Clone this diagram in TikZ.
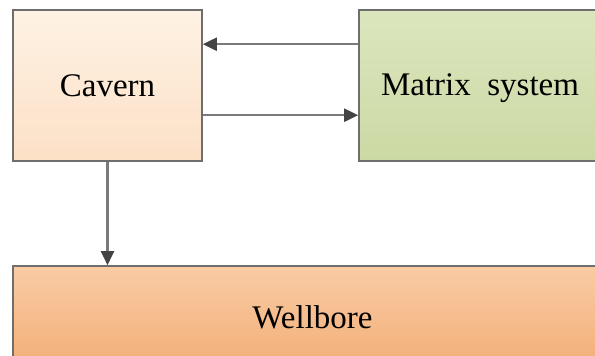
\documentclass[tikz,border=0pt]{standalone}
\usepackage{fontspec}
\setmainfont{Liberation Serif}
\usetikzlibrary{arrows.meta}
\definecolor{edgegray}{HTML}{6E6E6E}
\definecolor{linegray}{HTML}{7A7A7A}
\definecolor{tipgray}{HTML}{444444}
\definecolor{cavtop}{HTML}{FEF2E4}
\definecolor{cavbot}{HTML}{FCE0C6}
\definecolor{mattop}{HTML}{DCE6BE}
\definecolor{matbot}{HTML}{CBD9A4}
\definecolor{weltop}{HTML}{F9CCA4}
\definecolor{welbot}{HTML}{F3AE78}
\tikzset{
  blockbox/.style={draw=edgegray, line width=1.6pt, rectangle, inner sep=0pt,
    font=\fontsize{33}{40}\selectfont, text=black},
  flowarrow/.style={draw=linegray, line width=2.2pt,
    -{Triangle[length=14pt,width=13pt,fill=tipgray,color=tipgray]}},
}
\newcommand{\lowertext}[2]{\raisebox{-#1}[\height][\depth]{#2}}
\begin{document}
\begin{tikzpicture}[x=1pt,y=-1pt]
\useasboundingbox (0,0) rectangle (595,356);
\fill[white] (0,0) rectangle (595,356);
\clip (0,0) rectangle (595,356);
\node[blockbox, minimum width=189pt, minimum height=151pt,
      top color=cavtop, bottom color=cavbot] (cav) at (107.5,85.5) {Cavern};
\node[blockbox, minimum width=242pt, minimum height=151pt,
      top color=mattop, bottom color=matbot] (mat) at (480,85.5) {\lowertext{3pt}{Matrix\ \ system}};
\node[blockbox, minimum width=599pt, minimum height=100pt,
      top color=weltop, bottom color=welbot] (wel) at (312.5,316) {\lowertext{1pt}{Wellbore}};
\draw[flowarrow] ([yshift=-35pt]mat.north west) -- ([yshift=-35pt]cav.north east);
\draw[flowarrow] ([yshift=-106pt]cav.north east) -- ([yshift=-106pt]mat.north west);
\draw[flowarrow] (cav.south) -- (cav.south |- wel.north);
\end{tikzpicture}
\end{document}
